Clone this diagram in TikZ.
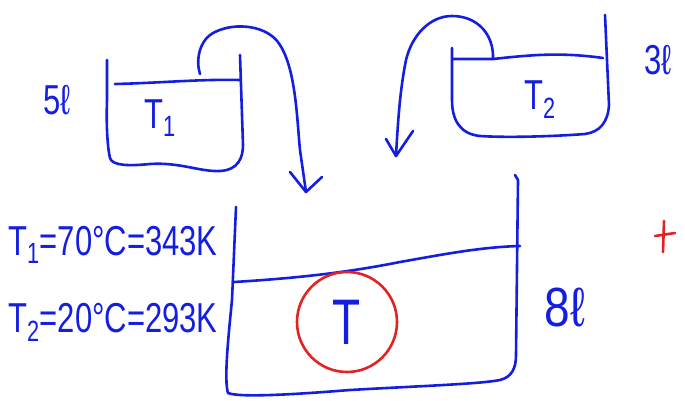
\documentclass[tikz,border=0pt]{standalone}
\usepackage{fontspec}
\usepackage{graphicx}
\setmainfont{Liberation Sans}
\definecolor{pen}{RGB}{20,30,225}
\definecolor{redpen}{RGB}{225,35,35}
\newcommand\tallhand[2][1.35]{\scalebox{1}[#1]{#2}}
\tikzset{
  ink/.style={draw=pen, line width=2.6pt, line cap=round, line join=round},
  redink/.style={draw=redpen, line width=2.6pt, line cap=round},
  hand/.style={text=pen, font=\fontsize{31}{31}\selectfont, inner sep=0pt},
  bighand/.style={text=pen, font=\fontsize{46}{46}\selectfont, inner sep=0pt},
}
\begin{document}
\begin{tikzpicture}[x=1pt,y=-1pt]
\useasboundingbox (0,0) rectangle (685,401);
% Tank T1
\draw[ink] (107,60) -- (107,100) .. controls (106,130) and (108,150) .. (110,158)
  .. controls (112,166) and (130,166) .. (150,164)
  .. controls (180,162) and (200,172) .. (220,171)
  .. controls (238,170) and (243,158) .. (243,145) -- (240,55);
\draw[ink] (115,84) .. controls (160,83) and (200,79) .. (240,80);
\node[hand] (t1) at (160,118) {\tallhand{T\textsubscript{1}}};
\node[hand] (v1) at (57,100) {\tallhand{5ℓ}};
% Pipe T1 -> big tank
\coordinate (p1s) at (200,74);
\coordinate (p1e) at (306,192);
\draw[ink] (p1s) .. controls (196,62) and (198,40) .. (215,32)
  .. controls (235,22) and (268,25) .. (280,45)
  .. controls (296,70) and (297,120) .. (300,150) -- (p1e);
\draw[ink] (290,172) -- (p1e) -- (322,177);
% Tank T2
\draw[ink] (452,48) -- (452,100) .. controls (452,120) and (460,134) .. (480,136)
  .. controls (510,138) and (560,136) .. (585,134)
  .. controls (600,132) and (608,122) .. (609,105) -- (605,15);
\draw[ink] (453,59) -- (493,59) .. controls (530,55) and (560,52) .. (603,58);
\node[hand] (t2) at (540,100) {\tallhand{T\textsubscript{2}}};
\node[hand] (v2) at (658,60) {\tallhand{3ℓ}};
% Pipe T2 -> big tank
\coordinate (p2s) at (493,59);
\coordinate (p2e) at (396,156);
\draw[ink] (p2s) .. controls (494,35) and (478,16) .. (452,16)
  .. controls (430,16) and (412,35) .. (406,60)
  .. controls (400,90) and (398,120) .. (p2e);
\draw[ink] (386,139) -- (p2e) -- (413,131);
% Big tank
\draw[ink] (236,207) -- (232,300) .. controls (228,340) and (224,380) .. (228,393)
  .. controls (240,398) and (300,394) .. (350,390)
  .. controls (420,386) and (480,384) .. (500,380)
  .. controls (512,377) and (516,368) .. (516,355) -- (518,180) -- (515,175);
\draw[ink] (234,282) .. controls (300,278) and (350,272) .. (400,262)
  .. controls (440,255) and (480,247) .. (520,246);
\node[bighand] (v3) at (565,307) {\tallhand[1.2]{8ℓ}};
% Red circle and T
\draw[redink] (347,322) ellipse [x radius=50, y radius=50];
\node[bighand] (t) at (347,322) {\tallhand[1.4]{T}};
% Red plus
\draw[redink] (664,221) -- (663,252);
\draw[redink] (655,236) -- (675,233);
% Equations
\node[hand, anchor=west] (e1) at (8,245) {\tallhand{T\textsubscript{1}=70°C=343K}};
\node[hand, anchor=west] (e2) at (8,322) {\tallhand{T\textsubscript{2}=20°C=293K}};
\end{tikzpicture}
\end{document}
